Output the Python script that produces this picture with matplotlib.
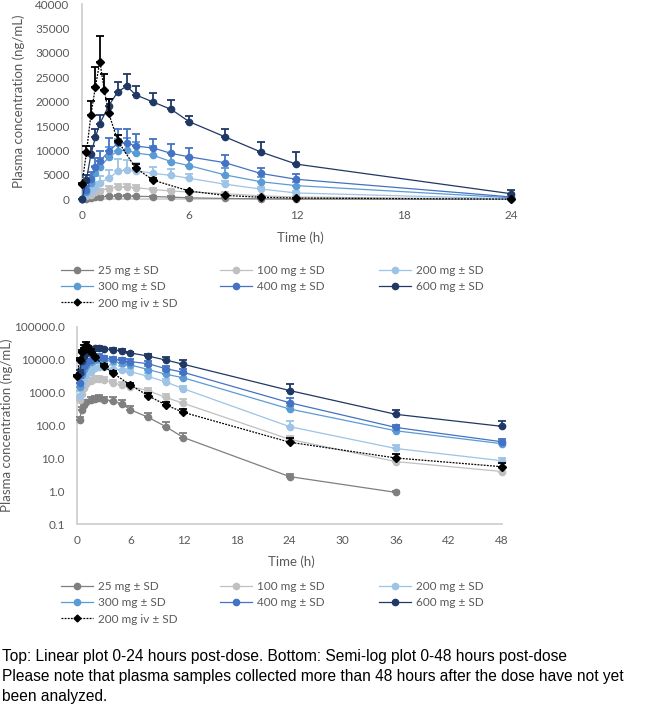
import numpy as np
import matplotlib
matplotlib.use("Agg")
import matplotlib.pyplot as plt
from matplotlib.lines import Line2D
from matplotlib.ticker import FixedLocator, FuncFormatter

plt.rcParams["font.family"] = ["Lato", "DejaVu Sans"]

# Sampling times (h)
t_oral = [0, 0.25, 0.5, 0.75, 1, 1.5, 2, 2.5, 3, 4, 5, 6, 8, 10, 12, 24, 36, 48]
t_iv = [0, 0.25, 0.5, 0.75, 1, 1.25, 1.5, 2, 3, 4, 6, 8, 10, 12, 24, 36, 48]

# Mean plasma concentration (ng/mL) and SD
c_25 = [0, 150, 300, 420, 500, 590, 640, 660, 610, 560, 450, 300, 178, 92, 43, 2.8, 0.93, np.nan]
sd_25 = [0, 30, 60, 80, 100, 120, 150, 160, 130, 150, 130, 80, 60, 38, 15, 0.5, 0.1, np.nan]
c_100 = [0, 600, 900, 1400, 1800, 2200, 2500, 2600, 2400, 2000, 1700, 1500, 1150, 710, 470, 38, 8, 4]
sd_100 = [0, 100, 200, 300, 400, 500, 600, 600, 500, 400, 400, 300, 250, 200, 150, 10, 2, 1]
c_200 = [0, 800, 1700, 2600, 3400, 4300, 5700, 6000, 5900, 5300, 4900, 4300, 3100, 2100, 1300, 92, 20, 8.5]
sd_200 = [0, 300, 700, 1000, 1300, 1800, 2600, 2100, 1600, 1400, 1300, 900, 700, 500, 300, 40, 5, 2]
c_300 = [0, 1500, 3300, 5300, 6600, 8600, 9900, 10100, 9500, 9000, 7700, 6900, 5000, 3600, 2800, 316, 69, 28]
sd_300 = [0, 500, 1000, 1500, 1800, 2200, 2400, 2500, 2200, 1900, 1800, 1600, 1400, 1000, 800, 80, 15, 6]
c_400 = [0, 2000, 4200, 6600, 7800, 9800, 11500, 11600, 10900, 10500, 9400, 8700, 7500, 5300, 4100, 490, 87, 32]
sd_400 = [0, 700, 1300, 1800, 2000, 2800, 3000, 2900, 2400, 1900, 1900, 1800, 1500, 1100, 1000, 200, 20, 8]
c_600 = [0, 4000, 9200, 12700, 15500, 19200, 22000, 23200, 21400, 19900, 18400, 15900, 12800, 9700, 7200, 1150, 218, 94]
sd_600 = [0, 900, 1800, 1600, 1800, 1300, 2000, 2400, 1800, 1900, 2000, 1200, 1500, 2000, 2400, 700, 80, 40]
c_iv = [3100, 9600, 17300, 23000, 28200, 22300, 17600, 12000, 6400, 3900, 1700, 800, 420, 250, 31, 10.3, 5.6]
sd_iv = [300, 1400, 2900, 4200, 5300, 3300, 2900, 1200, 900, 550, 200, 150, 80, 60, 10, 3, 1.5]

labels = ["25 mg \u00b1 SD", "100 mg \u00b1 SD", "200 mg \u00b1 SD", "300 mg \u00b1 SD",
          "400 mg \u00b1 SD", "600 mg \u00b1 SD", "200 mg iv \u00b1 SD"]
colors = ["#7f7f7f", "#c0c0c0", "#9dc3e6", "#5b9bd5", "#4472c4", "#203864", "#000000"]
times = [t_oral] * 6 + [t_iv]
means = [c_25, c_100, c_200, c_300, c_400, c_600, c_iv]
sds = [sd_25, sd_100, sd_200, sd_300, sd_400, sd_600, sd_iv]

axis_col = "#d0d0d0"
text_col = "#595959"

fig = plt.figure(figsize=(6.47, 7.06), dpi=100)


def draw(ax, log, t_max):
    for i in range(7):
        t = np.array(times[i], dtype=float)
        y = np.array(means[i], dtype=float)
        sd = np.array(sds[i], dtype=float)
        ok = ~np.isnan(y) & (t <= t_max)
        if log:
            ok &= y > 0
        is_iv = i == 6
        ax.errorbar(t[ok], y[ok], yerr=[np.zeros(ok.sum()), sd[ok]],
                    color=colors[i], marker="D" if is_iv else "o",
                    ms=3.8 if is_iv else 4.5, lw=0.9,
                    ls=(0, (1.5, 1)) if is_iv else "-",
                    elinewidth=1.3, capsize=3, capthick=1.3, clip_on=False, zorder=3 + i)
    for s in ["top", "right"]:
        ax.spines[s].set_visible(False)
    for s in ["left", "bottom"]:
        ax.spines[s].set_color(axis_col)
        ax.spines[s].set_linewidth(1.3)
    ax.tick_params(length=0, labelsize=8.5, labelcolor=text_col)
    ax.tick_params(axis="y", pad=9)
    ax.tick_params(axis="x", pad=8)
    ax.set_ylabel("Plasma concentration (ng/mL)", fontsize=9.5, color=text_col)


# Top: linear 0-24 h
ax1 = fig.add_axes([0.1267, 0.7177, 0.663, 0.2766])
draw(ax1, False, 24)
ax1.set_xlim(0, 24)
ax1.set_ylim(0, 40000)
ax1.set_xticks([0, 6, 12, 18, 24])
ax1.set_yticks(range(0, 40001, 5000))
ax1.yaxis.set_label_coords(-0.133, 0.5)
fig.text(300 / 647, 1 - 238 / 706, "Time (h)", ha="center", va="center", fontsize=9.5, color=text_col)

# Bottom: semi-log 0-48 h
ax2 = fig.add_axes([0.1195, 0.2574, 0.6564, 0.2799])
draw(ax2, True, 48)
ax2.set_yscale("log")
ax2.set_xlim(0, 48)
ax2.set_ylim(0.1, 100000)
ax2.set_xticks([0, 6, 12, 18, 24, 30, 36, 42, 48])
ax2.yaxis.set_major_locator(FixedLocator([0.1, 1, 10, 100, 1000, 10000, 100000]))
ax2.yaxis.set_minor_locator(FixedLocator([]))
ax2.yaxis.set_major_formatter(FuncFormatter(lambda v, p: f"{v:.1f}"))
ax2.yaxis.set_label_coords(-0.152, 0.5)
fig.text(291 / 647, 1 - 562 / 706, "Time (h)", ha="center", va="center", fontsize=9.5, color=text_col)


def handle(i):
    is_iv = i == 6
    return Line2D([], [], color=colors[i], lw=0.9, ls=(0, (1.5, 1)) if is_iv else "-",
                  marker="D" if is_iv else "o", ms=3.5 if is_iv else 4.5)


columns = [[0, 3, 6], [1, 4], [2, 5]]
col_x = [61, 220, 379]
for top_y in [265, 581]:
    for idx, cx in zip(columns, col_x):
        fig.legend(handles=[handle(i) for i in idx], labels=[labels[i] for i in idx],
                   loc="upper left", bbox_to_anchor=(cx / 647, 1 - top_y / 706),
                   frameon=False, fontsize=8.5, handlelength=2.7, handletextpad=0.4,
                   labelspacing=0.45, borderpad=0, borderaxespad=0, labelcolor=text_col)

# Caption
cap_font = ["Liberation Sans", "DejaVu Sans"]
cap_size = 11.2
fig.text(2 / 647, 1 - 657 / 706, "Top: Linear plot 0-24 hours post-dose. Bottom: Semi-log plot 0-48 hours post-dose",
         fontsize=cap_size, family=cap_font, va="center", ha="left")
fig.text(2 / 647, 1 - 677 / 706, "Please note that plasma samples collected more than 48 hours after the dose have not yet",
         fontsize=cap_size, family=cap_font, va="center", ha="left")
fig.text(2 / 647, 1 - 697 / 706, "been analyzed.", fontsize=cap_size, family=cap_font, va="center", ha="left")

fig.savefig("out.png", dpi=100)
plt.close(fig)
